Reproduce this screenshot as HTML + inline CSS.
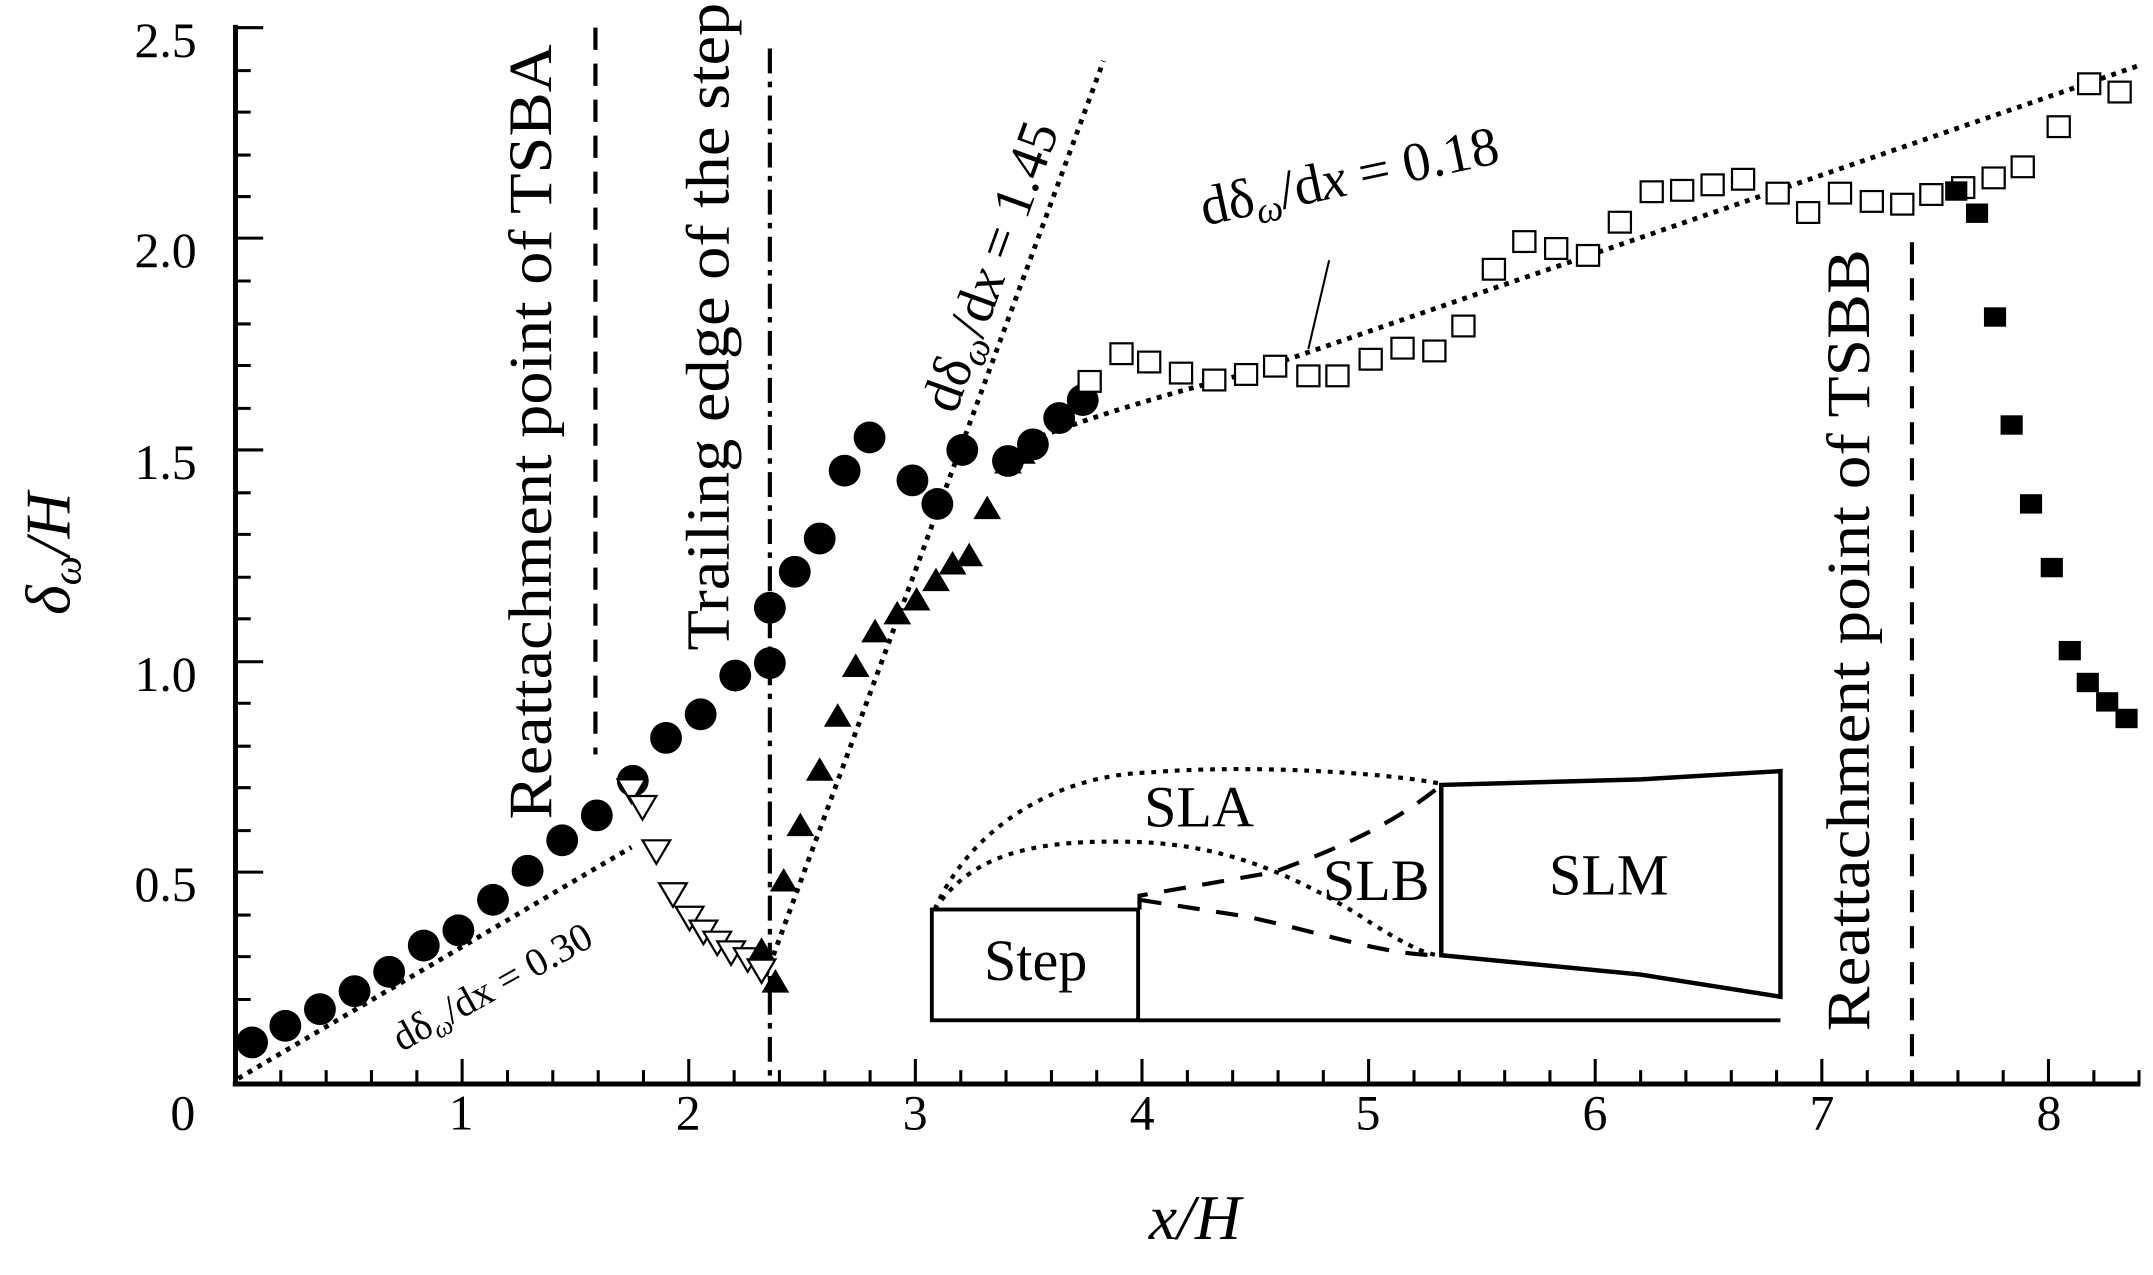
<!DOCTYPE html>
<html><head><style>html,body{margin:0;padding:0;background:#fff}svg{display:block}</style></head>
<body>
<svg width="2153" height="1275" viewBox="0 0 1555 921" xmlns="http://www.w3.org/2000/svg" font-family="'Liberation Serif', serif">
<g stroke="#000" fill="none">
<line x1="170" y1="18" x2="170" y2="784" stroke-width="3.6"/>
<line x1="168" y1="783" x2="1546" y2="783" stroke-width="3.6"/>
<g stroke-width="2.2">
<path d="M170 630h20M170 478h20M170 325h20M170 172h20M170 20h20"/>
<path d="M170 752h11M170 722h11M170 691h11M170 661h11M170 600h11M170 569h11M170 539h11M170 508h11M170 447h11M170 417h11M170 386h11M170 356h11M170 295h11M170 264h11M170 234h11M170 203h11M170 142h11M170 112h11M170 81h11M170 51h11"/>
<path d="M333.7 783v-18M497.4 783v-18M661.1 783v-18M824.8 783v-18M988.5 783v-18M1152.2 783v-18M1315.9 783v-18M1479.6 783v-18"/>
<path d="M202.7 783v-10M235.5 783v-10M268.2 783v-10M301 783v-10M366.5 783v-10M399.2 783v-10M432 783v-10M464.7 783v-10M530.2 783v-10M562.9 783v-10M595.7 783v-10M628.4 783v-10M693.9 783v-10M726.6 783v-10M759.4 783v-10M792.1 783v-10M857.6 783v-10M890.3 783v-10M923.1 783v-10M955.8 783v-10M1021.3 783v-10M1054 783v-10M1086.8 783v-10M1119.5 783v-10M1185 783v-10M1217.7 783v-10M1250.5 783v-10M1283.2 783v-10M1348.7 783v-10M1381.4 783v-10M1414.2 783v-10M1446.9 783v-10M1512.4 783v-10M1545 783v-10"/>
</g>
<line x1="430" y1="20" x2="430" y2="545" stroke-width="3" stroke-dasharray="16,10"/>
<line x1="556" y1="35" x2="556" y2="783" stroke-width="3" stroke-dasharray="18,6,4,6"/>
<line x1="1381" y1="175" x2="1381" y2="783" stroke-width="3" stroke-dasharray="16,10"/>
<g stroke-width="3.5" stroke-dasharray="3.5,4.5">
<line x1="172" y1="779" x2="456" y2="612"/>
<line x1="553" y1="705" x2="797" y2="44"/>
<path d="M752 315 Q820 290 900 270 L1546 47"/>
</g>
<line x1="960" y1="188" x2="945" y2="252" stroke-width="1.5"/>
<rect x="673" y="657" width="149" height="80" stroke-width="2.8"/>
<line x1="822" y1="737" x2="1286" y2="737" stroke-width="2.8"/>
<path d="M1041 567 L1185 563 L1286 557 L1286 720 L1185 704 L1041 690 Z" stroke-width="3.2"/>
<g stroke-width="3" stroke-dasharray="3.5,5">
<path d="M675 657 C700 600 760 560 830 558 C900 552 1000 558 1040 566"/>
<path d="M675 657 C700 620 740 607 810 608 C880 608 930 630 980 660 C1010 680 1030 690 1040 690"/>
</g>
<g stroke-width="3" stroke-dasharray="16,12">
<path d="M823 657 V647 L920 630 C960 615 1000 600 1040 568"/>
<path d="M823 650 L900 662 C960 675 1000 690 1040 690"/>
</g>
</g>
<g fill="#000">
<circle cx="182" cy="753" r="11.5"/><circle cx="206" cy="741" r="11.5"/><circle cx="231" cy="729" r="11.5"/><circle cx="256" cy="716" r="11.5"/><circle cx="281" cy="702" r="11.5"/><circle cx="306" cy="683" r="11.5"/><circle cx="331" cy="672" r="11.5"/><circle cx="356" cy="650" r="11.5"/><circle cx="381" cy="629" r="11.5"/><circle cx="406" cy="607" r="11.5"/><circle cx="431" cy="589" r="11.5"/><circle cx="457" cy="564" r="11.5"/><circle cx="481" cy="533" r="11.5"/><circle cx="506" cy="516" r="11.5"/><circle cx="531" cy="488" r="11.5"/><circle cx="556" cy="479" r="11.5"/><circle cx="556" cy="439" r="11.5"/><circle cx="574" cy="413" r="11.5"/><circle cx="592" cy="389" r="11.5"/><circle cx="610" cy="340" r="11.5"/><circle cx="628" cy="316" r="11.5"/><circle cx="659" cy="347" r="11.5"/><circle cx="677" cy="364" r="11.5"/><circle cx="695" cy="325" r="11.5"/><circle cx="728" cy="333" r="11.5"/><circle cx="746" cy="321" r="11.5"/><circle cx="765" cy="302" r="11.5"/><circle cx="782" cy="289" r="11.5"/>
</g>
<g fill="#fff" stroke="#000" stroke-width="1.6">
<path d="M446 563h20l-10 17z"/><path d="M454 575h20l-10 17z"/><path d="M464 607h20l-10 17z"/><path d="M476 638h20l-10 17z"/><path d="M488 655h20l-10 17z"/><path d="M498 665h20l-10 17z"/><path d="M508 673h20l-10 17z"/><path d="M518 680h20l-10 17z"/><path d="M530 685h20l-10 17z"/><path d="M540 693h20l-10 17z"/>
</g>
<g fill="#000">
<path d="M550 677l10 17h-20z"/><path d="M560 700l10 17h-20z"/><path d="M566 627l10 17h-20z"/><path d="M578 587l10 17h-20z"/><path d="M592 547l10 17h-20z"/><path d="M605 508l10 17h-20z"/><path d="M618 472l10 17h-20z"/><path d="M632 447l10 17h-20z"/><path d="M648 434l10 17h-20z"/><path d="M662 424l10 17h-20z"/><path d="M676 410l10 17h-20z"/><path d="M688 398l10 17h-20z"/><path d="M700 392l10 17h-20z"/><path d="M713 358l10 17h-20z"/><path d="M728 325l10 17h-20z"/><path d="M738 318l10 17h-20z"/>
</g>
<g fill="#fff" stroke="#000" stroke-width="1.6">
<rect x="779" y="268" width="16" height="15"/><rect x="802" y="248" width="16" height="15"/><rect x="822" y="254" width="16" height="15"/><rect x="845" y="262" width="16" height="15"/><rect x="869" y="267" width="16" height="15"/><rect x="892" y="263" width="16" height="15"/><rect x="913" y="257" width="16" height="15"/><rect x="937" y="264" width="16" height="15"/><rect x="958" y="264" width="16" height="15"/><rect x="982" y="252" width="16" height="15"/><rect x="1005" y="244" width="16" height="15"/><rect x="1028" y="246" width="16" height="15"/><rect x="1049" y="228" width="16" height="15"/><rect x="1071" y="187" width="16" height="15"/><rect x="1093" y="167" width="16" height="15"/><rect x="1116" y="172" width="16" height="15"/><rect x="1139" y="177" width="16" height="15"/><rect x="1162" y="153" width="16" height="15"/><rect x="1185" y="131" width="16" height="15"/><rect x="1207" y="130" width="16" height="15"/><rect x="1229" y="126" width="16" height="15"/><rect x="1251" y="122" width="16" height="15"/><rect x="1276" y="132" width="16" height="15"/><rect x="1298" y="146" width="16" height="15"/><rect x="1321" y="132" width="16" height="15"/><rect x="1344" y="138" width="16" height="15"/><rect x="1366" y="140" width="16" height="15"/><rect x="1387" y="133" width="16" height="15"/><rect x="1410" y="128" width="16" height="15"/><rect x="1432" y="121" width="16" height="15"/><rect x="1453" y="113" width="16" height="15"/><rect x="1479" y="84" width="16" height="15"/><rect x="1501" y="53" width="16" height="15"/><rect x="1523" y="59" width="16" height="15"/>
</g>
<g fill="#000">
<rect x="1405" y="131" width="16" height="14"/><rect x="1420" y="147" width="16" height="14"/><rect x="1433" y="222" width="16" height="14"/><rect x="1445" y="300" width="16" height="14"/><rect x="1459" y="357" width="16" height="14"/><rect x="1474" y="403" width="16" height="14"/><rect x="1487" y="463" width="16" height="14"/><rect x="1500" y="486" width="16" height="14"/><rect x="1514" y="500" width="16" height="14"/><rect x="1528" y="512" width="16" height="14"/>
</g>
<g font-size="36" fill="#000" text-anchor="end">
<text x="142" y="41">2.5</text><text x="142" y="193">2.0</text><text x="142" y="346">1.5</text><text x="142" y="499">1.0</text><text x="142" y="651">0.5</text>
</g>
<g font-size="36" fill="#000" text-anchor="middle">
<text x="132" y="816">0</text><text x="333" y="816">1</text><text x="497" y="816">2</text><text x="661" y="816">3</text><text x="825" y="816">4</text><text x="988" y="816">5</text><text x="1152" y="816">6</text><text x="1316" y="816">7</text><text x="1480" y="816">8</text>
</g>
<text x="863" y="895" font-size="46" font-style="italic" text-anchor="middle">x/H</text>
<text transform="translate(50,400) rotate(-90)" font-size="46" font-style="italic" text-anchor="middle">δ<tspan font-size="30" dy="8">ω</tspan><tspan dy="-8">/H</tspan></text>
<text transform="translate(398,592) rotate(-90)" font-size="44" textLength="560" lengthAdjust="spacingAndGlyphs">Reattachment point of TSBA</text>
<text transform="translate(526,470) rotate(-90)" font-size="44" textLength="468" lengthAdjust="spacingAndGlyphs">Trailing edge of the step</text>
<text transform="translate(1350,745) rotate(-90)" font-size="44" textLength="565" lengthAdjust="spacingAndGlyphs">Reattachment point of TSBB</text>
<text transform="translate(690,300) rotate(-70)" font-size="40">dδ<tspan font-size="27" dy="7" font-style="italic">ω</tspan><tspan dy="-7">/d</tspan><tspan font-style="italic">x</tspan> = 1.45</text>
<text transform="translate(870,163) rotate(-12)" font-size="40">dδ<tspan font-size="27" dy="7" font-style="italic">ω</tspan><tspan dy="-7">/d</tspan><tspan font-style="italic">x</tspan> = 0.18</text>
<text transform="translate(290,760) rotate(-29)" font-size="29">dδ<tspan font-size="19" dy="5" font-style="italic">ω</tspan><tspan dy="-5">/dx = 0.30</tspan></text>
<g font-size="42" text-anchor="middle">
<text x="748" y="708">Step</text><text x="866" y="597">SLA</text><text x="994" y="650">SLB</text><text x="1162" y="646">SLM</text>
</g>
</svg>
</body></html>
